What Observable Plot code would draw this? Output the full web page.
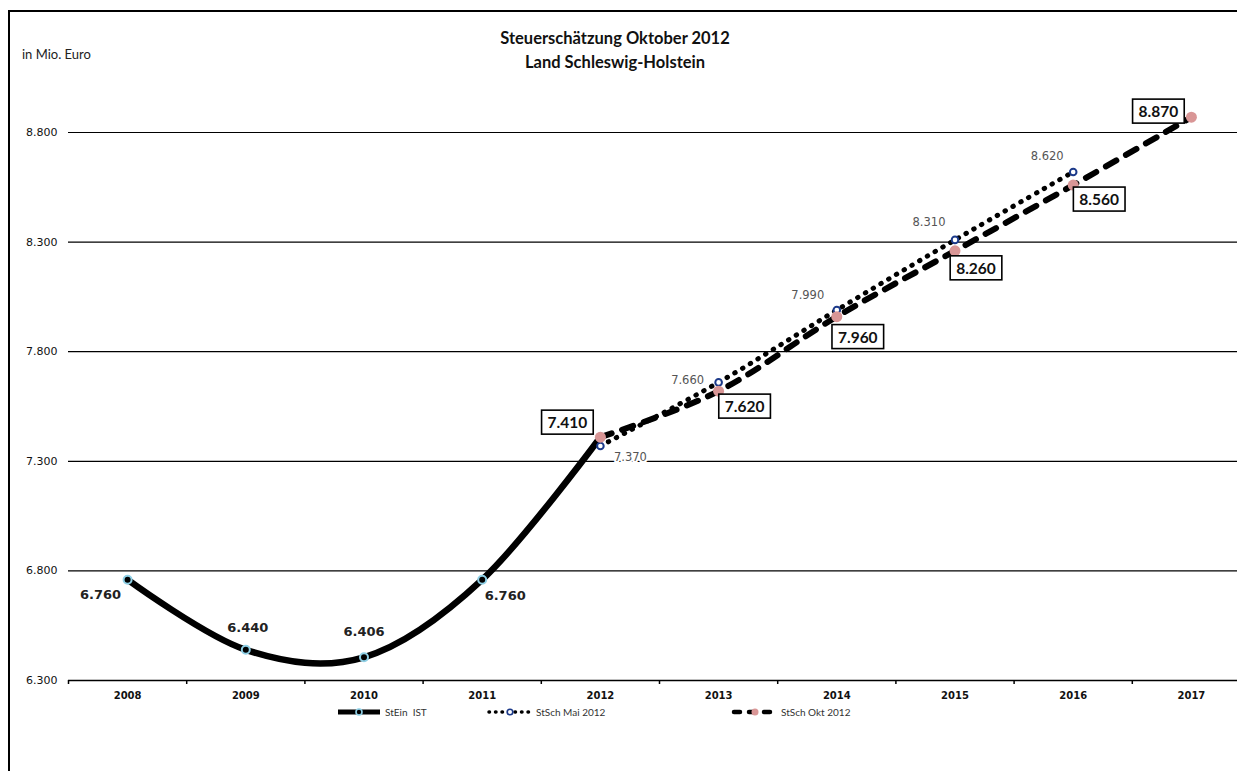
<!DOCTYPE html>
<html>
<head>
<meta charset="utf-8">
<script src="https://cdn.jsdelivr.net/npm/d3@7"></script>
<script src="https://cdn.jsdelivr.net/npm/@observablehq/plot@0.6"></script>
<style>
  html, body { margin: 0; padding: 0; background: #fff; overflow: hidden; }
  #wrap { position: relative; width: 1237px; height: 771px; overflow: hidden; background: #fff; }
  #frame { position: absolute; left: 8px; top: 10px; width: 1400px; height: 900px;
           border-left: 2px solid #000; border-top: 2px solid #000; box-sizing: border-box; }
  #title { position: absolute; left: 415px; width: 400px; top: 26px; text-align: center;
           font-family: Lato, "Open Sans", sans-serif; font-weight: 700; font-size: 16.5px; line-height: 24px; color: #111; }
  #unit { position: absolute; left: 22px; top: 46px; font-family: Lato, sans-serif; font-size: 13px; color: #222; }
  #chart { position: absolute; left: 0; top: 0; width: 1300px; }
  #chart svg { max-width: none !important; }
  #legend { position: absolute; left: 0; top: 700px; }
</style>
</head>
<body>
<div id="wrap">
  <div id="frame"></div>
  <div id="chart"></div>
  <div id="title">Steuerschätzung Oktober 2012<br>Land Schleswig-Holstein</div>
  <div id="unit">in Mio. Euro</div>
  <div id="legend"></div>
</div>
<script>
// ---- data ----
const years = [2008, 2009, 2010, 2011, 2012, 2013, 2014, 2015, 2016, 2017];
const yTicks = [6300, 6800, 7300, 7800, 8300, 8800];
const istYears = [2008, 2009, 2010, 2011, 2012];
const istValues = [6760, 6440, 6406, 6760, 7410];
const maiYears = [2012, 2013, 2014, 2015, 2016];
const maiValues = [7370, 7660, 7990, 8310, 8620];
const oktYears = [2012, 2013, 2014, 2015, 2016, 2017];
const oktValues = [7410, 7620, 7960, 8260, 8560, 8870];
const seriesNames = ["StEin\u00a0\u00a0IST", "StSch Mai 2012", "StSch Okt 2012"];

// label placement (offsets in px), layout only
const istLabelOff = [[-27, 15], [2, -22], [0, -25], [23, 16]];
const maiLabelOff = [[30, 11], [-31, -2], [-29, -15], [-26, -18], [-26, -16]];
const oktLabelOff = [[-33, -14], [26, 16], [21, 21], [21, 18], [26, 15], [-33, -5]];

const fmt = v => d3.format(",")(v).replace(/,/g, ".");
const ist = istYears.map((y, i) => ({year: y, value: istValues[i]}));
const mai = maiYears.map((y, i) => ({year: y, value: maiValues[i]}));
const okt = oktYears.map((y, i) => ({year: y, value: oktValues[i]}));
const bounds = years.map(y => y - 0.5);

const labelMarks = [];
ist.slice(0, istLabelOff.length).forEach((d, i) => {
  labelMarks.push(Plot.text([d], {x: "year", y: "value", text: d => fmt(d.value),
    dx: istLabelOff[i][0], dy: istLabelOff[i][1],
    fontFamily: "DejaVu Sans", fontWeight: "bold", fontSize: 13, fill: "#222"}));
});
mai.forEach((d, i) => {
  labelMarks.push(Plot.text([d], {x: "year", y: "value", text: d => fmt(d.value),
    dx: maiLabelOff[i][0], dy: maiLabelOff[i][1],
    fontFamily: "DejaVu Sans", fontSize: 11.5, fill: "#555", stroke: "white", strokeWidth: 4}));
});
okt.forEach((d, i) => {
  labelMarks.push(Plot.text([d], {x: "year", y: "value", text: d => fmt(d.value),
    dx: oktLabelOff[i][0], dy: oktLabelOff[i][1], className: "boxlbl",
    fontFamily: "Lato", fontWeight: "bold", fontSize: 15.5, fill: "#111"}));
});

const plot = Plot.plot({
  width: 1262, height: 720,
  marginLeft: 68, marginRight: 12, marginTop: 132, marginBottom: 40,
  style: {fontFamily: "DejaVu Sans", fontSize: "11px", color: "#000", background: "transparent", maxWidth: "none"},
  x: {type: "linear", domain: [years[0] - 0.5, years[years.length - 1] + 0.5]},
  y: {domain: [yTicks[0], yTicks[yTicks.length - 1]]},
  marks: [
    Plot.ruleY(yTicks.slice(1), {stroke: "#000", strokeWidth: 1.2}),
    Plot.ruleY([yTicks[0]], {stroke: "#000", strokeWidth: 1.6}),
    Plot.axisY({ticks: yTicks, tickSize: 0, tickPadding: 11, tickFormat: fmt, label: null,
      fontSize: 11, fill: "#111"}),
    Plot.axisX({ticks: bounds, tickSize: 4, tickFormat: () => "", label: null, strokeWidth: 1.5}),
    Plot.axisX({ticks: years, tickSize: 0, tickPadding: 11, tickFormat: d => String(d), label: null,
      fontWeight: "bold", fontSize: 10, fill: "#111"}),
    Plot.line(ist, {x: "year", y: "value", curve: "cardinal", stroke: "#000", strokeWidth: 6.5, strokeLinecap: "round"}),
    Plot.line(mai, {x: "year", y: "value", curve: "cardinal", stroke: "#000", strokeWidth: 5,
      strokeDasharray: "0.5 8.5", strokeLinecap: "round"}),
    Plot.line(okt, {x: "year", y: "value", curve: "cardinal", stroke: "#000", strokeWidth: 6,
      strokeDasharray: "12 11", strokeLinecap: "round"}),
    Plot.dot(ist, {x: "year", y: "value", r: 4, fill: "#000", stroke: "#8fd0e6", strokeWidth: 2}),
    Plot.dot(mai, {x: "year", y: "value", r: 3.3, fill: "#fff", stroke: "#1c3a8a", strokeWidth: 2}),
    Plot.dot(okt, {x: "year", y: "value", r: 5.5, fill: "#d99696"}),
    ...labelMarks
  ]
});
plot.style.maxWidth = "none";
plot.style.width = "1262px";
plot.style.height = "720px";
document.getElementById("chart").append(plot);

// boxes behind the Okt labels
const ns = "http://www.w3.org/2000/svg";
plot.querySelectorAll(".boxlbl text").forEach(t => {
  const b = t.getBBox();
  const r = document.createElementNS(ns, "rect");
  r.setAttribute("x", b.x - 6);
  r.setAttribute("y", b.y - 3);
  r.setAttribute("width", b.width + 12);
  r.setAttribute("height", b.height + 6);
  r.setAttribute("fill", "#fff");
  r.setAttribute("stroke", "#000");
  r.setAttribute("stroke-width", 1.6);
  if (t.getAttribute("transform")) r.setAttribute("transform", t.getAttribute("transform"));
  t.parentNode.insertBefore(r, t);
});

// legend
const lg = d3.select("#legend").append("svg").attr("width", 1237).attr("height", 26);
const items = [
  {x: 338, w: 42, name: seriesNames[0], dash: null, sw: 5, cap: "butt", mk: {fill: "#000", stroke: "#8fd0e6", r: 3}},
  {x: 489, w: 42, name: seriesNames[1], dash: "0.5 6", sw: 3.5, cap: "round", mk: {fill: "#fff", stroke: "#1c3a8a", r: 2.8}},
  {x: 734, w: 42, name: seriesNames[2], dash: "6 9", sw: 4.5, cap: "round", mk: {fill: "#d99696", stroke: "none", r: 3.5}}
];
items.forEach(it => {
  const l = lg.append("line").attr("x1", it.x).attr("x2", it.x + it.w).attr("y1", 12).attr("y2", 12)
    .attr("stroke", "#000").attr("stroke-width", it.sw).attr("stroke-linecap", it.cap);
  if (it.dash) l.attr("stroke-dasharray", it.dash);
  lg.append("circle").attr("cx", it.x + it.w / 2).attr("cy", 12).attr("r", it.mk.r)
    .attr("fill", it.mk.fill).attr("stroke", it.mk.stroke).attr("stroke-width", 1.6);
  lg.append("text").attr("x", it.x + it.w + 5).attr("y", 12).attr("dy", "0.35em")
    .attr("font-family", "Lato").attr("font-size", 10).attr("fill", "#333").text(it.name);
});
</script>
</body>
</html>
